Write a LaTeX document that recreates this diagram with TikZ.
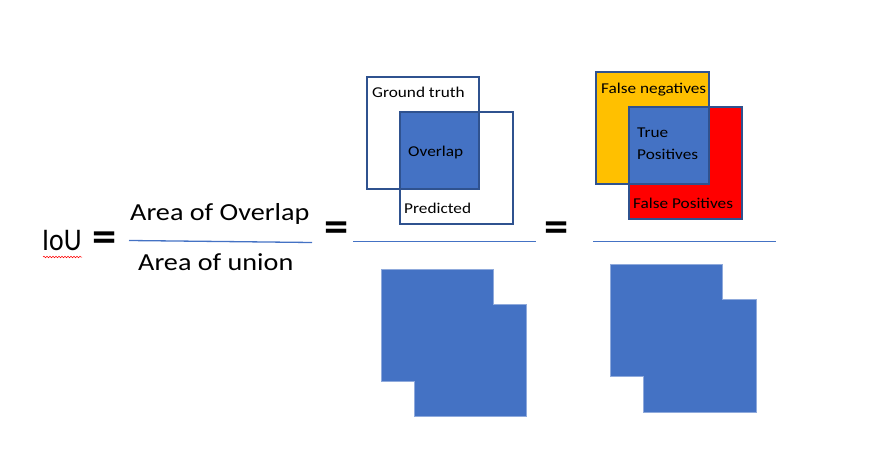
\documentclass[tikz,border=0pt]{standalone}
\usepackage{fontspec}
\setmainfont{Carlito}
\newfontfamily\widefont[FakeStretch=1.15]{Carlito}
\newfontfamily\narrowfont[FakeStretch=0.88]{Carlito}
\newfontfamily\eqfont[FakeStretch=1.1]{Carlito}
\usepackage{tikz}
\usetikzlibrary{decorations.pathmorphing}
\definecolor{boxblue}{HTML}{4472C4}
\definecolor{edgeblue}{HTML}{2F528F}
\definecolor{lightedge}{HTML}{8FAADC}
\definecolor{fnorange}{HTML}{FFC000}

\begin{document}
\begin{tikzpicture}[x=1pt,y=-1pt,
  lbl/.style={inner sep=0pt,anchor=base west,font=\widefont\fontsize{15}{15}\selectfont},
  big/.style={inner sep=0pt,anchor=base west,font=\widefont\fontsize{24.5}{24.5}\selectfont},
  eqsign/.style={inner sep=0pt,font=\eqfont\bfseries\fontsize{44}{44}\selectfont},
  outline/.style={draw=edgeblue,line width=1.5pt},
  unionbox/.style={fill=boxblue,draw=lightedge,line width=0.8pt}]
\useasboundingbox (0,0) rectangle (886,476);

% left side
\node[inner sep=0pt,anchor=base west,font=\narrowfont\fontsize{31.5}{31.5}\selectfont] (iou) at (42,250) {IoU};
\draw[red,line width=0.5pt,decorate,decoration={snake,amplitude=0.8pt,segment length=3pt}] (43,257) -- (82,257);
\node[eqsign] (eq1) at (105,242) {=};
\node[big] (num) at (130,220.7) {Area of Overlap};
\node[big] (den) at (138,270.7) {Area of union};
\draw[boxblue,line width=1.3pt] (129,240.5) -- (312,242.5);

% middle
\node[eqsign] (eq2) at (337,231.5) {=};
\draw[boxblue,line width=1.3pt] (353,241.7) -- (536,241.7);
\draw[outline] (367,77) rectangle (479,189);
\draw[outline] (400,112) rectangle (513,224);
\draw[outline,fill=boxblue] (400,112) rectangle (479,189);
\node[lbl] (gt) at (372,98) {Ground truth};
\node[lbl] (ov) at (408,157) {Overlap};
\node[lbl] (pr) at (404,213) {Predicted};
\draw[unionbox] (381,269) -- (493,269) -- (493,304) -- (526,304) -- (526,416)
  -- (414,416) -- (414,381) -- (381,381) -- cycle;

% right
\node[eqsign] (eq3) at (557,231.5) {=};
\draw[boxblue,line width=1.3pt] (593,241.7) -- (776,241.7);
\draw[outline,fill=fnorange] (596,72) rectangle (709,184);
\draw[outline,fill=red] (629,107) rectangle (742,219);
\draw[outline,fill=boxblue] (629,107) rectangle (709,184);
\node[lbl] (fn) at (601,94) {False negatives};
\node[lbl] (tp1) at (637,138) {True};
\node[lbl] (tp2) at (637,159) {Positives};
\node[lbl] (fp) at (633,208) {False Positives};
\draw[unionbox] (610,264) -- (722,264) -- (722,299) -- (756,299) -- (756,412)
  -- (643,412) -- (643,376) -- (610,376) -- cycle;

\end{tikzpicture}
\end{document}
